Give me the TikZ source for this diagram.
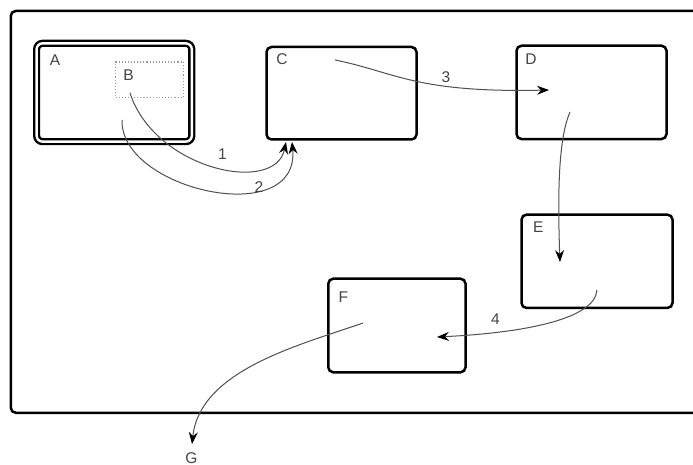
\documentclass[tikz,border=0pt]{standalone}
\usepackage{fontspec}
\setmainfont{Liberation Sans}
\usetikzlibrary{arrows.meta}
\definecolor{txt}{HTML}{444444}
\definecolor{wire}{HTML}{505050}
\tikzset{
  box/.style={draw=black, line width=2.5pt, rounded corners=5pt, inner sep=0pt, rectangle},
  dbox/.style={draw=black, line width=2.4pt, double=white, double distance=2.4pt, rounded corners=6pt, inner sep=0pt, rectangle},
  inner/.style={draw=gray!80, line width=1.1pt, dotted, inner sep=0pt, rectangle},
  lab/.style={text=txt, font=\fontsize{15.5}{17}\selectfont, inner sep=0pt, anchor=center},
  conn/.style={draw=wire, line width=1pt, -{Stealth[length=12pt,width=9pt,inset=4pt,fill=black,color=black]}},
}
\begin{document}
\begin{tikzpicture}[x=1pt,y=-1pt]
\useasboundingbox (0,0) rectangle (693,465);
\fill[white] (0,0) rectangle (693,465);
\node[box, minimum width=740pt, minimum height=401.8pt, anchor=north west] (frame) at (9.5,9.7) {};
\node[dbox, minimum width=155.2pt, minimum height=98.3pt] (A) at (114.2,92.5) {};
\node[inner, minimum width=68pt, minimum height=35.5pt] (B) at (149.5,79.75) {};
\node[box, minimum width=150pt, minimum height=92.5pt] (C) at (341.5,93.25) {};
\node[box, minimum width=150pt, minimum height=93.3pt] (D) at (591.5,92.4) {};
\node[box, minimum width=151pt, minimum height=93.3pt] (E) at (597,261.3) {};
\node[box, minimum width=137.2pt, minimum height=93.6pt] (F) at (396.9,325.5) {};
\node[lab] (Alab) at (55,60.5) {A};
\node[lab] (Blab) at (128.5,75) {B};
\node[lab] (Clab) at (282,59) {C};
\node[lab] (Dlab) at (531,59) {D};
\node[lab] (Elab) at (538.3,227.5) {E};
\node[lab] (Flab) at (343.3,296.7) {F};
\node[lab] (G) at (191.5,458) {G};
% connector end points
\coordinate (b1) at (130,93);
\coordinate (a2) at (122,120);
\coordinate (c1) at (286,142);
\coordinate (c2) at (292,142);
\coordinate (c3) at (335,60);
\coordinate (d3) at (549,90);
\coordinate (d4) at (570,112);
\coordinate (e4) at (560,262);
\coordinate (e5) at (597,290);
\coordinate (f5) at (437,337);
\coordinate (f6) at (363,323);
\coordinate (g6) at (192,444);
\draw[conn] (b1) .. controls (155,170) and (275,195) .. (c1);
\draw[conn] (a2) .. controls (120,190) and (300,230) .. (c2);
\draw[conn] (c3) .. controls (395,72) and (415,93) .. (d3);
\draw[conn] (d4) .. controls (560,135) and (557,180) .. (e4);
\draw[conn] (e5) .. controls (595,320) and (520,333) .. (f5);
\draw[conn] (f6) .. controls (300,345) and (200,370) .. (g6);
\node[lab] (n1) at (222.5,154) {1};
\node[lab] (n2) at (259,187.5) {2};
\node[lab] (n3) at (446,77.5) {3};
\node[lab] (n4) at (495.5,319) {4};
\end{tikzpicture}
\end{document}
